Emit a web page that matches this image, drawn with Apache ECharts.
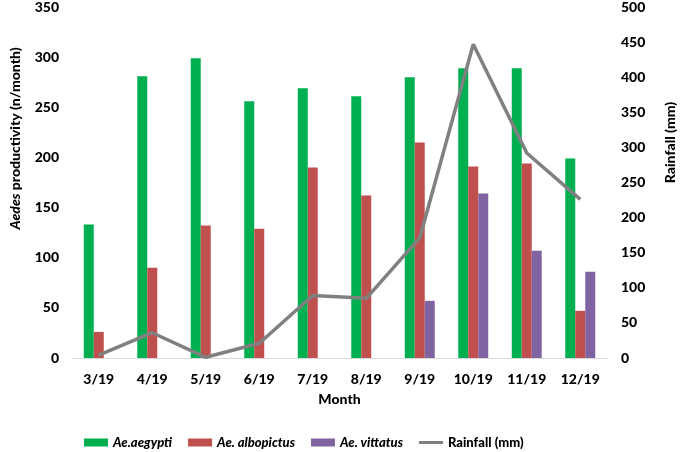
<!DOCTYPE html>
<html><head><meta charset="utf-8">
<script src="https://cdn.jsdelivr.net/npm/echarts@6/dist/echarts.min.js"></script>
<style>html,body{margin:0;padding:0;background:#fff}#c{width:685px;height:452px}</style>
</head><body><div id="c"></div>
<script>
const months = ['3/19','4/19','5/19','6/19','7/19','8/19','9/19','10/19','11/19','12/19'];
const aegypti = [133, 281, 299, 256, 269, 261, 280, 289, 289, 199];
const albopictus = [26, 90, 132, 129, 190, 162, 215, 191, 194, 47];
const vittatus = [null, null, null, null, null, null, 57, 164, 107, 86];
const rainfall = [4, 36, 1, 21, 89, 85, 171, 447, 292, 226];
const leftTicks = [0, 350, 50];
const rightTicks = [0, 500, 50];

const FONT = 'Lato';
const chart = echarts.init(document.getElementById('c'));
const bold = {fontFamily: FONT, fontWeight: 900, fontSize: 14, color: '#000'};
chart.setOption({
  animation: false,
  backgroundColor: '#fff',
  grid: {left: 67, right: 72, top: 5, bottom: 94},
  legend: {
    top: 431, left: 79, itemWidth: 24, itemHeight: 8, itemGap: 16,
    textStyle: {fontFamily: FONT, fontWeight: 900, fontSize: 13, color: '#000'},
    data: [
      {name: 'Ae.aegypti', icon: 'rect', textStyle: {fontStyle: 'italic'}},
      {name: 'Ae. albopictus', icon: 'rect', textStyle: {fontStyle: 'italic'}},
      {name: 'Ae. vittatus', icon: 'rect', textStyle: {fontStyle: 'italic'}},
      {name: 'Rainfall (mm)', icon: 'path://M0,4L24,4L24,7L0,7Z'}
    ]
  },
  xAxis: {
    type: 'category', data: months,
    name: 'Month', nameLocation: 'middle', nameGap: 34,
    nameTextStyle: bold,
    axisLine: {lineStyle: {color: '#d9d9d9', width: 1}},
    axisTick: {show: false},
    axisLabel: Object.assign({margin: 14}, bold)
  },
  yAxis: [{
    type: 'value', min: leftTicks[0], max: leftTicks[1], interval: leftTicks[2],
    name: '{i|Aedes} productivity (n/month)', nameLocation: 'middle', nameGap: 50, nameRotate: 90,
    nameTextStyle: Object.assign({padding: [0, 0, 0, 88], rich: {i: Object.assign({fontStyle: 'italic'}, bold)}}, bold),
    axisLine: {show: false}, axisTick: {show: false}, splitLine: {show: false},
    axisLabel: Object.assign({margin: 13}, bold)
  }, {
    type: 'value', position: 'right', min: rightTicks[0], max: rightTicks[1], interval: rightTicks[2],
    name: 'Rainfall (mm)', nameLocation: 'middle', nameGap: 56, nameRotate: 90,
    nameTextStyle: Object.assign({padding: [0, 0, 0, 80]}, bold),
    axisLine: {show: false}, axisTick: {show: false}, splitLine: {show: false},
    axisLabel: Object.assign({margin: 14}, bold)
  }],
  series: [
    {name: 'Ae.aegypti', type: 'bar', data: aegypti, barWidth: 10, barGap: '0%', itemStyle: {color: '#00b050'}},
    {name: 'Ae. albopictus', type: 'bar', data: albopictus, barWidth: 10, barGap: '0%', itemStyle: {color: '#c0504d'}},
    {name: 'Ae. vittatus', type: 'bar', data: vittatus, barWidth: 10, barGap: '0%', itemStyle: {color: '#8064a2'}},
    {name: 'Rainfall (mm)', type: 'line', yAxisIndex: 1, data: rainfall, symbol: 'none',
     lineStyle: {color: '#808080', width: 3.5}, itemStyle: {color: '#808080'}}
  ]
});
</script></body></html>
